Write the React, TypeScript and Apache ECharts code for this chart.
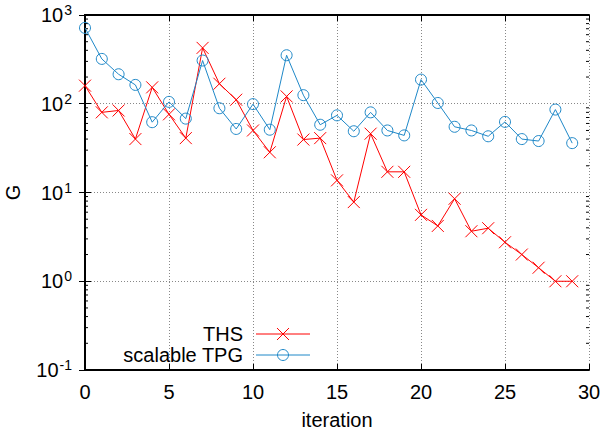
import React, { useEffect, useRef } from "react";
import * as echarts from "echarts";

const iterations = [0,1,2,3,4,5,6,7,8,9,10,11,12,13,14,15,16,17,18,19,20,21,22,23,24,25,26,27,28,29];
const thsValues = [160,80,84,40,153,76,41,426,168,111,50,28.4,121,39.5,41,13.7,7.8,46,17.1,17.1,5.6,4.2,8.5,3.66,3.96,2.75,2.0,1.42,1.0,1.0];
const tpgValues = [716,320,215,163,62,105,68,307,89,52,99,51,352,125,58,74,49,80,50,44,187,102,55,50,43,62.5,40,38,86,36];
const seriesNames = ["THS", "scalable TPG"];
const xTicks = [0, 5, 10, 15, 20, 25, 30];
const decades = [-1, 0, 1, 2];
const minorMultipliers = [2, 3, 4, 5, 6, 7, 8, 9];

const RED = "#ff0000";
const BLUE = "#1f88c8";
const FONT = '"Liberation Sans", Arial, sans-serif';

export default function App() {
  const ref = useRef<HTMLDivElement>(null);
  useEffect(() => {
    if (!ref.current) return;
    const chart = echarts.init(ref.current, null, { renderer: "svg" });
    const minorTicks: number[][] = [];
    decades.forEach((d) => minorMultipliers.forEach((m) => minorTicks.push([0, m * Math.pow(10, d)])));

    const yLabel = (v: number) => {
      const e = Math.round(Math.log10(v));
      return `{b|10}{s|${e}}`;
    };

    const option: any = {
      animation: false,
      backgroundColor: "#ffffff",
      grid: { left: 85, right: 16, top: 15, bottom: 62, containLabel: false, outerBoundsMode: "none" },
      xAxis: [
        {
          type: "value",
          min: xTicks[0],
          max: xTicks[xTicks.length - 1],
          interval: 5,
          name: "iteration",
          nameLocation: "middle",
          nameGap: 40,
          nameTextStyle: { fontSize: 20, color: "#000", fontFamily: FONT },
          axisLine: { show: true, lineStyle: { color: "#000", width: 2 } },
          axisTick: { show: true, inside: true, length: 6, lineStyle: { color: "#000", width: 1 } },
          axisLabel: { fontSize: 20, color: "#000", fontFamily: FONT, margin: 12 },
          splitLine: { show: true, lineStyle: { color: "#888", type: [1, 2], width: 1 } },
        },
        {
          type: "value",
          position: "top",
          min: xTicks[0],
          max: xTicks[xTicks.length - 1],
          interval: 5,
          axisLine: { show: true, lineStyle: { color: "#000", width: 2 } },
          axisTick: { show: true, inside: true, length: 6, lineStyle: { color: "#000", width: 1 } },
          axisLabel: { show: false },
          splitLine: { show: false },
        },
      ],
      yAxis: [
        {
          type: "log",
          logBase: 10,
          min: 0.1,
          max: 1000,
          name: "G",
          nameLocation: "middle",
          nameGap: 62,
          nameRotate: 90,
          nameTextStyle: { fontSize: 20, color: "#000", fontFamily: FONT },
          axisLine: { show: true, lineStyle: { color: "#000", width: 2 } },
          axisTick: { show: true, inside: true, length: 6, lineStyle: { color: "#000", width: 1 } },
          axisLabel: {
            margin: 13,
            formatter: yLabel,
            rich: {
              b: { fontSize: 20, color: "#000", fontFamily: FONT },
              s: { fontSize: 14, color: "#000", fontFamily: FONT, padding: [0, 0, 10, 1] },
            },
          },
          splitLine: { show: true, lineStyle: { color: "#888", type: [1, 2], width: 1 } },
        },
        {
          type: "log",
          logBase: 10,
          min: 0.1,
          max: 1000,
          position: "right",
          axisLine: { show: true, lineStyle: { color: "#000", width: 2 } },
          axisTick: { show: true, inside: true, length: 6, lineStyle: { color: "#000", width: 1 } },
          axisLabel: { show: false },
          splitLine: { show: false },
        },
      ],
      series: [
        {
          type: "custom",
          silent: true,
          clip: false,
          xAxisIndex: 0,
          yAxisIndex: 0,
          data: minorTicks,
          encode: { x: 0, y: 1 },
          renderItem: (params: any, api: any) => {
            const v = api.value(1);
            const pl = api.coord([xTicks[0], v]);
            const pr = api.coord([xTicks[xTicks.length - 1], v]);
            return {
              type: "group",
              children: [
                { type: "line", shape: { x1: pl[0], y1: pl[1], x2: pl[0] + 3, y2: pl[1] }, style: { stroke: "#000", lineWidth: 1 } },
                { type: "line", shape: { x1: pr[0] - 3, y1: pr[1], x2: pr[0], y2: pr[1] }, style: { stroke: "#000", lineWidth: 1 } },
              ],
            };
          },
        },
        {
          name: seriesNames[0],
          type: "line",
          data: iterations.map((x, i) => [x, thsValues[i]]),
          symbol: "path://M0,0L10,10M10,0L0,10",
          symbolSize: 12,
          showAllSymbol: true,
          lineStyle: { color: RED, width: 1 },
          itemStyle: { color: "rgba(0,0,0,0)", borderColor: RED, borderWidth: 1 },
          z: 3,
        },
        {
          name: seriesNames[1],
          type: "line",
          data: iterations.map((x, i) => [x, tpgValues[i]]),
          symbol: "circle",
          symbolSize: 11,
          showAllSymbol: true,
          lineStyle: { color: BLUE, width: 1 },
          itemStyle: { color: "rgba(0,0,0,0)", borderColor: BLUE, borderWidth: 1 },
          z: 4,
        },
      ],
      graphic: [
        {
          type: "group",
          z: 100,
          children: [
            { type: "rect", shape: { x: 115, y: 323, width: 200, height: 45 }, style: { fill: "#fff" } },
            { type: "text", x: 243, y: 334, style: { text: seriesNames[0], align: "right", verticalAlign: "middle", font: `20px ${FONT}`, fill: "#000" } },
            { type: "line", shape: { x1: 256, y1: 334, x2: 310, y2: 334 }, style: { stroke: RED, lineWidth: 1 } },
            { type: "line", shape: { x1: 277, y1: 328, x2: 289, y2: 340 }, style: { stroke: RED, lineWidth: 1 } },
            { type: "line", shape: { x1: 289, y1: 328, x2: 277, y2: 340 }, style: { stroke: RED, lineWidth: 1 } },
            { type: "text", x: 243, y: 355, style: { text: seriesNames[1], align: "right", verticalAlign: "middle", font: `20px ${FONT}`, fill: "#000" } },
            { type: "line", shape: { x1: 256, y1: 355, x2: 310, y2: 355 }, style: { stroke: BLUE, lineWidth: 1 } },
            { type: "circle", shape: { cx: 283, cy: 355, r: 5.5 }, style: { fill: "none", stroke: BLUE, lineWidth: 1 } },
          ],
        },
      ],
    };
    chart.setOption(option);
    return () => chart.dispose();
  }, []);
  return <div ref={ref} style={{ position: "fixed", left: 0, top: 0, width: 605, height: 432 }} />;
}
